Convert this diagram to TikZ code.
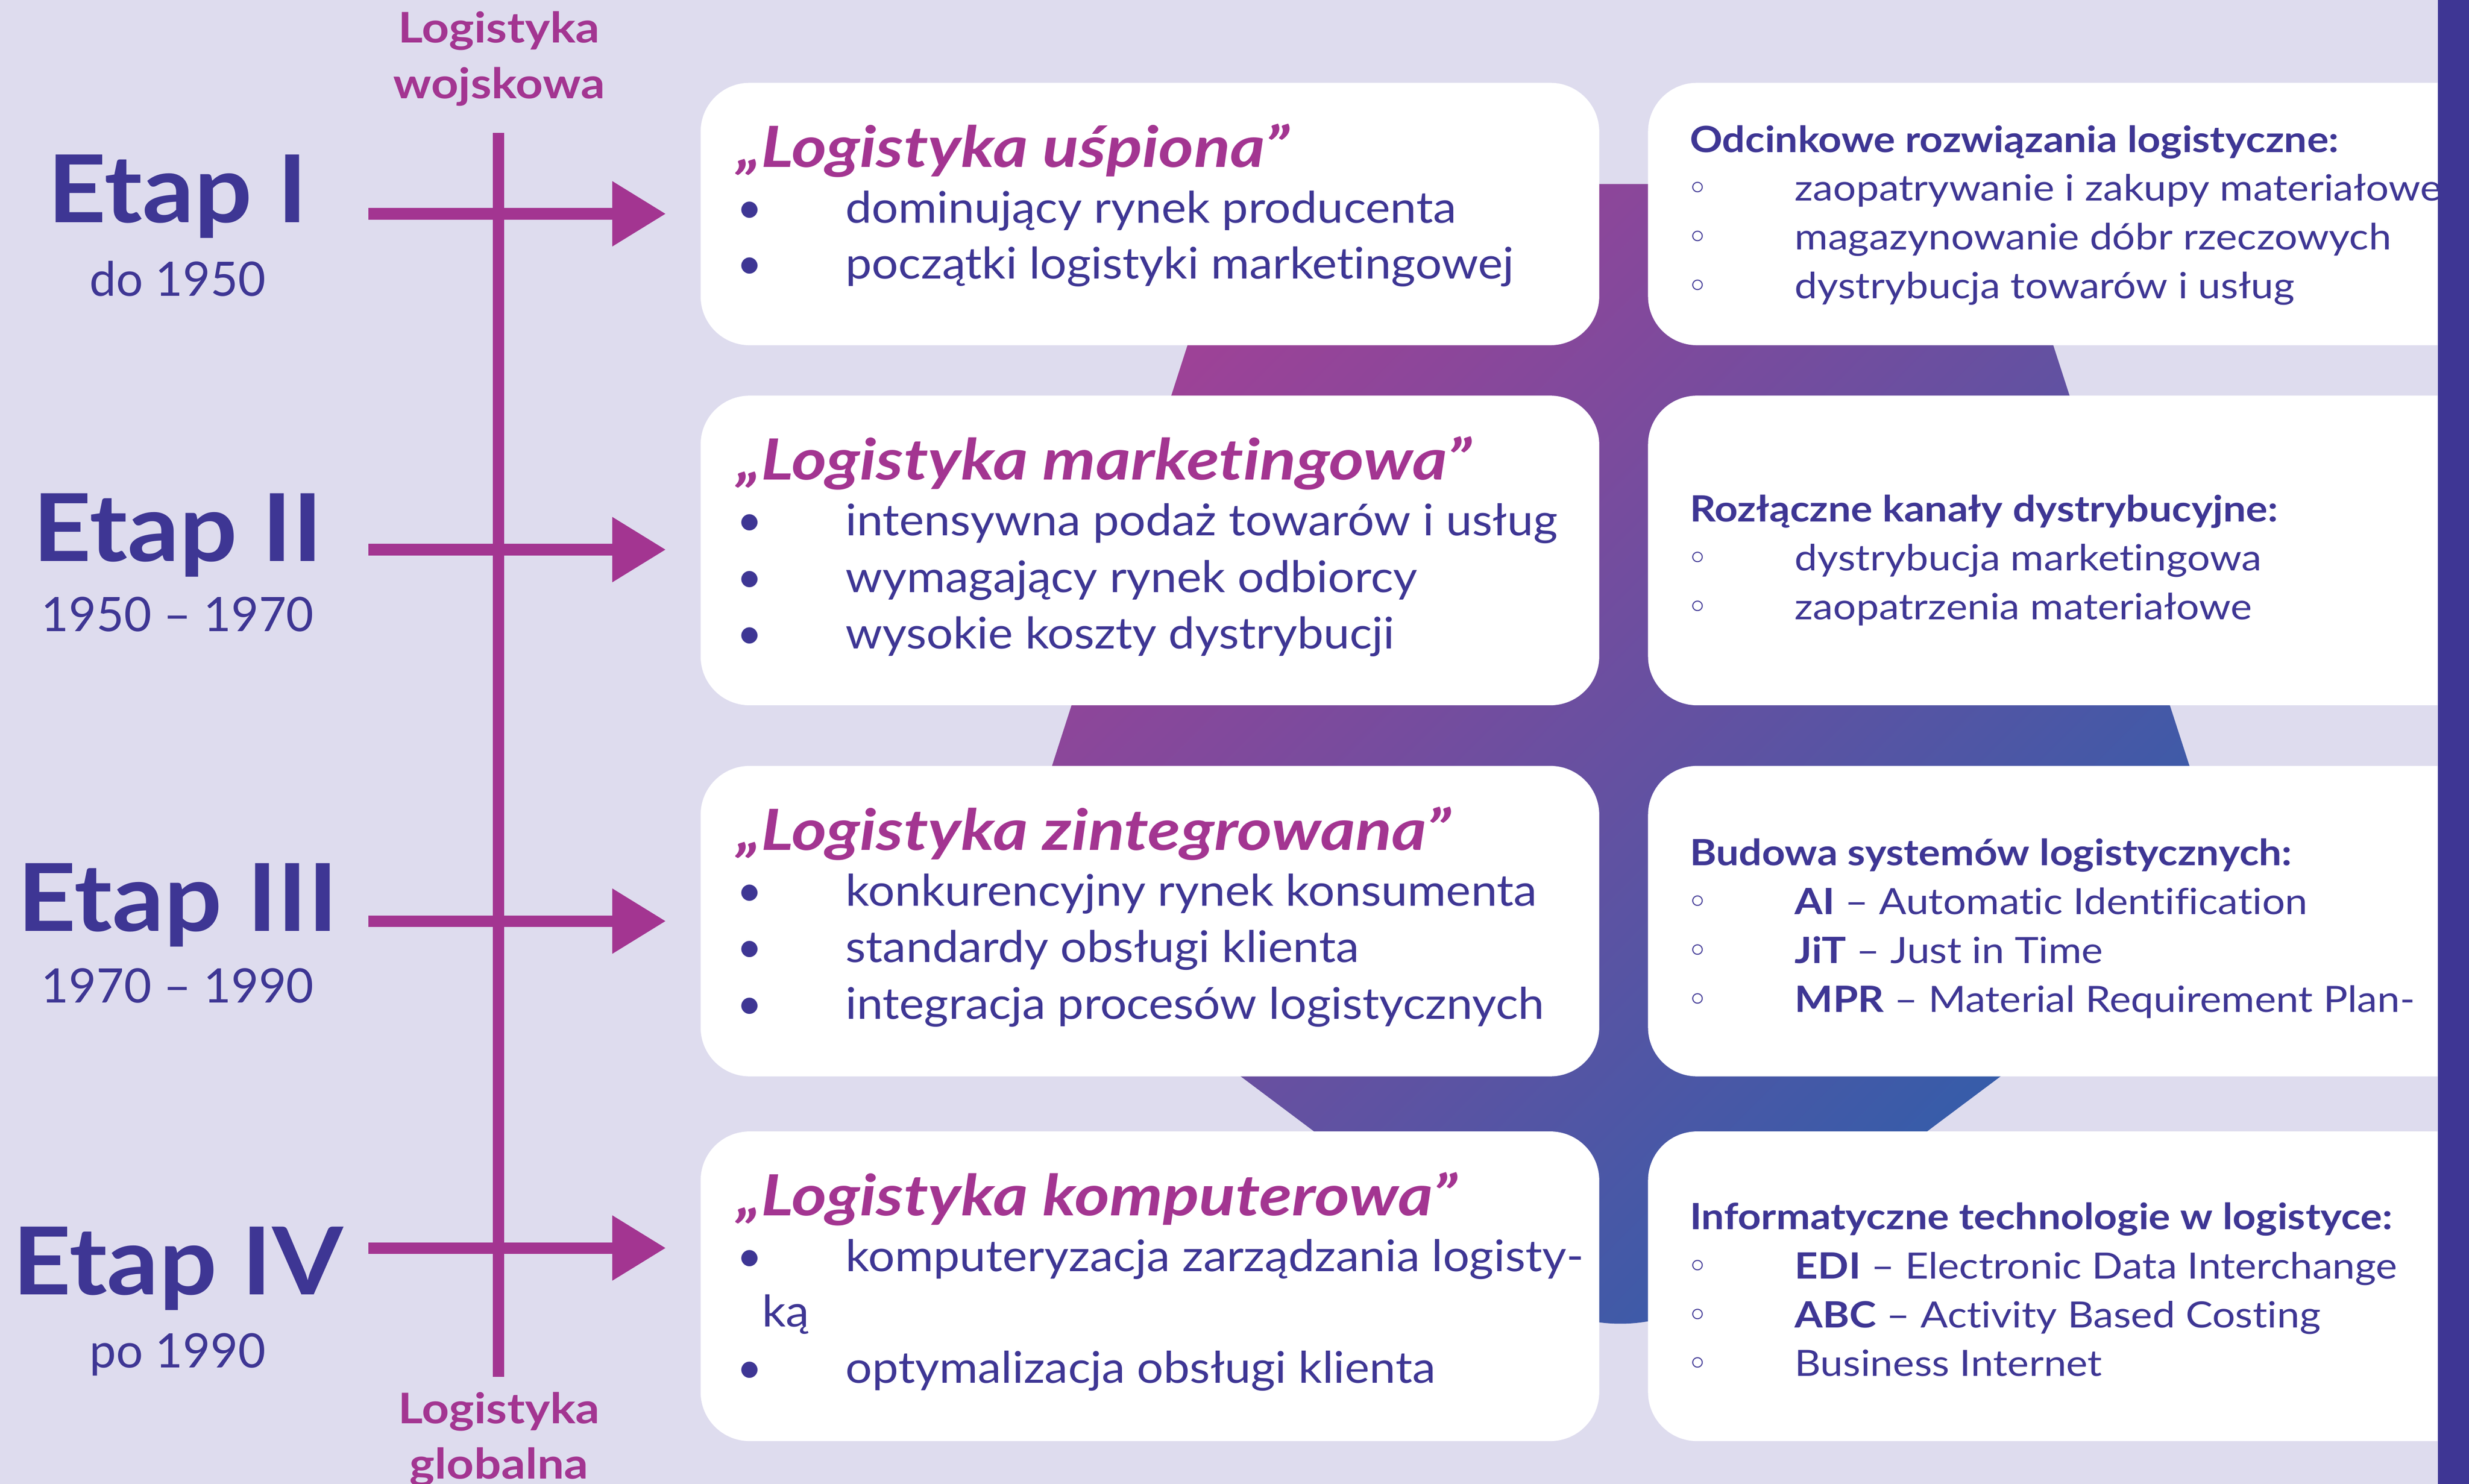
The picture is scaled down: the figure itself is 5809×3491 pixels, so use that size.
\documentclass[tikz,border=0pt]{standalone}
\usepackage{fontspec}
\setmainfont{Lato}
\newfontfamily\circfont{DejaVu Sans}
\newfontfamily\bodyfont[FakeStretch=1.075, Ligatures=NoCommon]{Lato}
\newfontfamily\headfont[FakeStretch=1.12, Ligatures=NoCommon]{Lato}
\newfontfamily\titlefont[FakeStretch=1.18, Ligatures=NoCommon]{Lato}
\newfontfamily\etapfont[FakeStretch=1.09]{Lato}
\newfontfamily\erafont[FakeStretch=1.13]{Lato}
\usepackage{tikz}
\usetikzlibrary{arrows.meta,positioning,calc,shadings}
\definecolor{bgpanel}{HTML}{DEDCEE}
\definecolor{navy}{HTML}{3E3694}
\definecolor{plum}{HTML}{A33591}
\definecolor{gradA}{HTML}{9D4297}
\definecolor{gradB}{HTML}{7A4E9E}
\definecolor{gradC}{HTML}{2C5FAB}

\begin{document}
\begin{tikzpicture}[x=0.01cm, y=-0.01cm,
    lbox/.style={rectangle, fill=white, rounded corners=1.15cm, minimum width=21.13cm, inner sep=0pt},
    rbox/.style={rectangle, fill=white, rounded corners=1.15cm, minimum width=20.22cm, inner sep=0pt},
    arrow/.style={-{Triangle[length=1.26cm, width=1.46cm]}, line width=0.27cm, draw=plum, shorten >=0.81cm},
    etap/.style={anchor=base, inner sep=0pt, text=navy, font={\etapfont\fontsize{62.7}{70}\selectfont\bfseries}},
    period/.style={anchor=base, inner sep=0pt, text=navy, font=\fontsize{31.8}{36}\selectfont},
    era/.style={anchor=base, inner sep=0pt, text=plum, font={\erafont\fontsize{28.2}{34}\selectfont\bfseries}},
    ltitle/.style={anchor=base west, inner sep=0pt, text=plum, font={\titlefont\fontsize{38}{44}\selectfont\bfseries\itshape}},
    litem/.style={anchor=base west, inner sep=0pt, text=navy, font={\bodyfont\fontsize{29.2}{35}\selectfont}},
    ldot/.style={anchor=base, inner sep=0pt, text=navy, font=\fontsize{29.2}{35}\selectfont},
    rhead/.style={anchor=base west, inner sep=0pt, text=navy, font={\headfont\fontsize{24.2}{29}\selectfont\bfseries}},
    ritem/.style={anchor=base west, inner sep=0pt, text=navy, font={\headfont\fontsize{24.2}{29}\selectfont}},
    rdot/.style={anchor=base, inner sep=0pt, text=navy, font={\circfont\fontsize{24.2}{29}\selectfont}}
]
    \useasboundingbox (0,0) rectangle (5809,3491);
    \fill[bgpanel] (0,0) rectangle (5809,3491);

    % gradient pentagon behind the boxes
    \shade[top color=gradA, middle color=gradB, bottom color=gradC, shading angle=45, rounded corners=2.5cm]
        (2916,433) -- (4708,433) -- (5255,2122) -- (3812,3202) -- (2372,2122) -- cycle;

    % boxes
    \node[lbox, minimum height=6.17cm] (L1) at (2705.5,503.5) {};
    \node[lbox, minimum height=7.28cm] (L2) at (2705.5,1295) {};
    \node[lbox, minimum height=7.30cm] (L3) at (2705.5,2167) {};
    \node[lbox, minimum height=7.28cm] (L4) at (2705.5,3026) {};
    \node[rbox, minimum height=6.17cm] (R1) at (4889,503.5) {};
    \node[rbox, minimum height=7.28cm] (R2) at (4889,1295) {};
    \node[rbox, minimum height=7.30cm] (R3) at (4889,2167) {};
    \node[rbox, minimum height=7.28cm] (R4) at (4889,3026) {};

    % time axis
    \node[era] (milA) at (1174,100) {Logistyka};
    \node[era] (milB) at (1174,232) {wojskowa};
    \node[era] (globA) at (1174,3349) {Logistyka};
    \node[era] (globB) at (1174,3479) {globalna};
    \coordinate (vTop) at (1173,313);
    \coordinate (vBot) at (1173,3239);
    \draw[draw=plum, line width=0.27cm] (vTop) -- (vBot);

    \coordinate (a1) at (867,503);
    \coordinate (a2) at (867,1293);
    \coordinate (a3) at (867,2167);
    \coordinate (a4) at (867,2936);
    \draw[arrow] (a1) -- (L1.west |- a1);
    \draw[arrow] (a2) -- (L2.west |- a2);
    \draw[arrow] (a3) -- (L3.west |- a3);
    \draw[arrow] (a4) -- (L4.west |- a4);

    % stages
    \node[etap] (etap1) at (418,523) {Etap I};
    \node[period] (per1) at (418,696) {do 1950};
    \node[etap] (etap2) at (418,1320) {Etap II};
    \node[period] (per2) at (418,1485) {1950 – 1970};
    \node[etap] (etap3) at (418,2191) {Etap III};
    \node[period] (per3) at (418,2359) {1970 – 1990};
    \node[etap] (etap4) at (418,3046) {Etap IV};
    \node[period] (per4) at (418,3218) {po 1990};

    % left boxes
    \node[ltitle] (t1) at (1733,393) {„Logistyka uśpiona”};
    \node[ldot] (d1a) at (1764,524) {•};
    \node[litem] (t1a) at (1989,524) {dominujący rynek producenta};
    \node[ldot] (d1b) at (1764,656) {•};
    \node[litem] (t1b) at (1989,656) {początki logistyki marketingowej};

    \node[ltitle] (t2) at (1733,1129) {„Logistyka marketingowa”};
    \node[ldot] (d2a) at (1764,1260) {•};
    \node[litem] (t2a) at (1989,1260) {intensywna podaż towarów i usług};
    \node[ldot] (d2b) at (1764,1393) {•};
    \node[litem] (t2b) at (1989,1393) {wymagający rynek odbiorcy};
    \node[ldot] (d2c) at (1764,1526) {•};
    \node[litem] (t2c) at (1989,1526) {wysokie koszty dystrybucji};

    \node[ltitle] (t3) at (1733,2000) {„Logistyka zintegrowana”};
    \node[ldot] (d3a) at (1764,2131) {•};
    \node[litem] (t3a) at (1989,2131) {konkurencyjny rynek konsumenta};
    \node[ldot] (d3b) at (1764,2264) {•};
    \node[litem] (t3b) at (1989,2264) {standardy obsługi klienta};
    \node[ldot] (d3c) at (1764,2397) {•};
    \node[litem] (t3c) at (1989,2397) {integracja procesów logistycznych};

    \node[ltitle] (t4) at (1733,2860) {„Logistyka komputerowa”};
    \node[ldot] (d4a) at (1764,2991) {•};
    \node[litem] (t4a) at (1989,2991) {komputeryzacja zarządzania logisty-};
    \node[litem] (t4b) at (1792,3121) {ką};
    \node[ldot] (d4c) at (1764,3254) {•};
    \node[litem] (t4c) at (1989,3254) {optymalizacja obsługi klienta};

    % right boxes
    \node[rhead] (h1) at (3975,358) {Odcinkowe rozwiązania logistyczne:};
    \node[rdot] (c1a) at (3994,472) {◦};
    \node[ritem] (h1a) at (4222,472) {zaopatrywanie i zakupy materiałowe};
    \node[rdot] (c1b) at (3994,587) {◦};
    \node[ritem] (h1b) at (4222,587) {magazynowanie dóbr rzeczowych};
    \node[rdot] (c1c) at (3994,702) {◦};
    \node[ritem] (h1c) at (4222,702) {dystrybucja towarów i usług};

    \node[rhead] (h2) at (3975,1228) {Rozłączne kanały dystrybucyjne:};
    \node[rdot] (c2a) at (3994,1343) {◦};
    \node[ritem] (h2a) at (4222,1343) {dystrybucja marketingowa};
    \node[rdot] (c2b) at (3994,1458) {◦};
    \node[ritem] (h2b) at (4222,1458) {zaopatrzenia materiałowe};

    \node[rhead] (h3) at (3975,2036) {Budowa systemów logistycznych:};
    \node[rdot] (c3a) at (3994,2151) {◦};
    \node[ritem] (h3a) at (4222,2151) {{\bfseries AI} – Automatic Identification};
    \node[rdot] (c3b) at (3994,2266) {◦};
    \node[ritem] (h3b) at (4222,2266) {{\bfseries JiT} – Just in Time};
    \node[rdot] (c3c) at (3994,2381) {◦};
    \node[ritem] (h3c) at (4222,2381) {{\bfseries MPR} – Material Requirement Plan-};

    \node[rhead] (h4) at (3975,2892) {Informatyczne technologie w logistyce:};
    \node[rdot] (c4a) at (3994,3008) {◦};
    \node[ritem] (h4a) at (4222,3008) {{\bfseries EDI} – Electronic Data Interchange};
    \node[rdot] (c4b) at (3994,3123) {◦};
    \node[ritem] (h4b) at (4222,3123) {{\bfseries ABC} – Activity Based Costing};
    \node[rdot] (c4c) at (3994,3237) {◦};
    \node[ritem] (h4c) at (4222,3237) {Business Internet};

    % side bar
    \fill[navy] (5736,0) rectangle (5809,3491);
\end{tikzpicture}
\end{document}
